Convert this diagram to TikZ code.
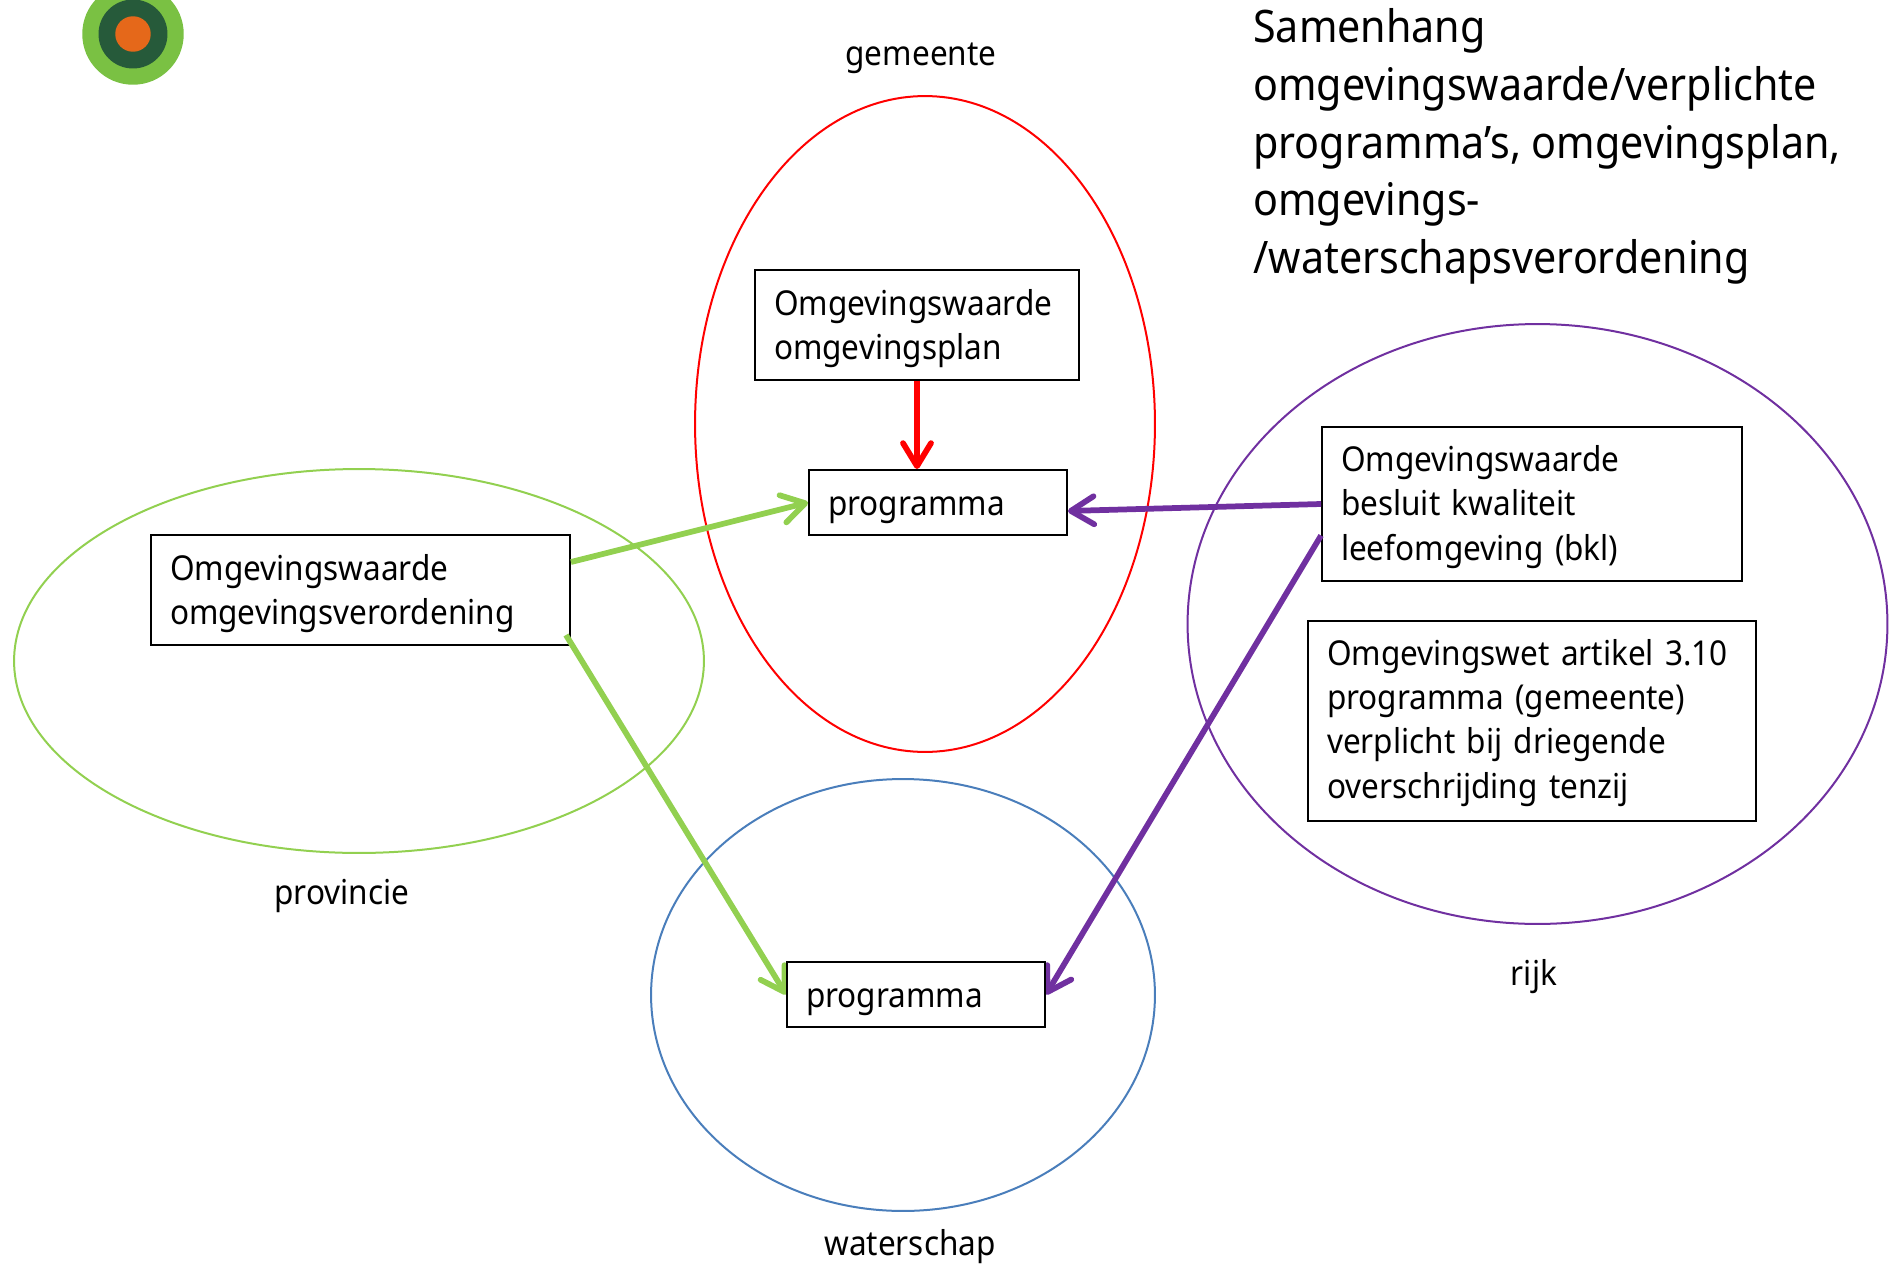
\documentclass[tikz,border=0pt]{standalone}
\usepackage{fontspec}
\setmainfont[FakeStretch=0.92]{Noto Sans}
\usepackage{xcolor}
\usetikzlibrary{arrows.meta,shapes.geometric,backgrounds}

\definecolor{logolight}{HTML}{7AC143}
\definecolor{logodark}{HTML}{265A3A}
\definecolor{logoorange}{HTML}{E5681A}
\definecolor{provgreen}{HTML}{92D050}
\definecolor{wsblue}{HTML}{4A7EBB}
\definecolor{rijkpurple}{HTML}{7030A0}

\begin{document}
\begin{tikzpicture}[
  x=0.02cm, y=-0.02cm,
  box/.style={rectangle, draw, fill=white, line width=0.04cm, inner xsep=0.38cm, inner ysep=0pt, align=left, font=\fontsize{19.5}{25.3}\selectfont},
  progbox/.style={box, text width=4.4cm, minimum height=1.3cm, text height=0.62cm, text depth=0.1cm},
  area/.style={ellipse, draw, line width=0.04cm, inner sep=0pt},
  lbl/.style={inner sep=0pt, font=\fontsize{19.5}{25.3}\selectfont},
  disc/.style={circle, fill, inner sep=0pt},
  arr/.style={-{Straight Barb[length=0.46cm, width=0.56cm, round]}, line width=0.115cm}
]
\useasboundingbox (0,0) rectangle (1890,1264);

% Logo
\node[disc, logolight, minimum size=2.03cm] (logoa) at (133,34) {};
\node[disc, logodark, minimum size=1.38cm] (logob) at (133,34) {};
\node[disc, logoorange, minimum size=0.71cm] (logoc) at (133,34) {};

% Areas and the boxes the arrows start from
\begin{scope}[on background layer]
\node[area, red, minimum width=9.2cm, minimum height=13.12cm] (gemeente) at (925,424) {};
\node[area, provgreen, minimum width=13.8cm, minimum height=7.68cm] (provincie) at (359,661) {};
\node[area, wsblue, minimum width=10.08cm, minimum height=8.64cm] (waterschap) at (903,995) {};
\node[area, rijkpurple, minimum width=14cm, minimum height=12cm] (rijk) at (1537.5,624) {};
\node[box, text width=5.72cm, minimum height=2.2cm, text depth=0.91cm] (plan) at (917,325) {Omgevingswaarde\\omgevingsplan};
\node[box, text width=7.62cm, minimum height=2.2cm, text depth=0.91cm] (verordening) at (360.5,590) {Omgevingswaarde\\omgevingsverordening};
\node[box, text width=7.64cm, minimum height=3.08cm, text depth=1.83cm] (bkl) at (1532,504) {Omgevingswaarde\\besluit kwaliteit\\leefomgeving (bkl)};
\end{scope}

% Area labels
\node[lbl] (lblgemeente) at (921,58) {gemeente};
\node[lbl] (lblprovincie) at (342,896) {provincie};
\node[lbl] (lblwaterschap) at (910,1247) {waterschap};
\node[lbl] (lblrijk) at (1534,977) {rijk};

% Title
\node[inner sep=0pt, anchor=north west, align=left, font=\fontsize{25.5}{32.9}\selectfont] (title) at (1253,8) {Samenhang\\omgevingswaarde/verplichte\\programma's, omgevingsplan,\\omgevings-\\/waterschapsverordening};

% Other boxes
\node[progbox] (proggem) at (938,502.5) {programma};
\node[box, text width=8.2cm, minimum height=4cm, text depth=2.76cm] (artikel) at (1532,721) {Omgevingswet artikel 3.10\\programma (gemeente)\\verplicht bij driegende\\overschrijding tenzij};
\node[progbox] (progws) at (916,994.5) {programma};

% Arrows
\begin{scope}[on background layer]
\draw[arr, red] (plan.south) -- (plan.south |- proggem.north);
\draw[arr, provgreen] ([yshift=0.56cm]verordening.east) -- (proggem.west);
\draw[arr, provgreen] ([xshift=-0.1cm,yshift=-0.9cm]verordening.east) -- (progws.west);
\draw[arr, rijkpurple] (bkl.west) -- ([yshift=-0.17cm]proggem.east);
\draw[arr, rijkpurple] ([yshift=-0.63cm]bkl.west) -- (progws.east);
\end{scope}

\end{tikzpicture}
\end{document}
